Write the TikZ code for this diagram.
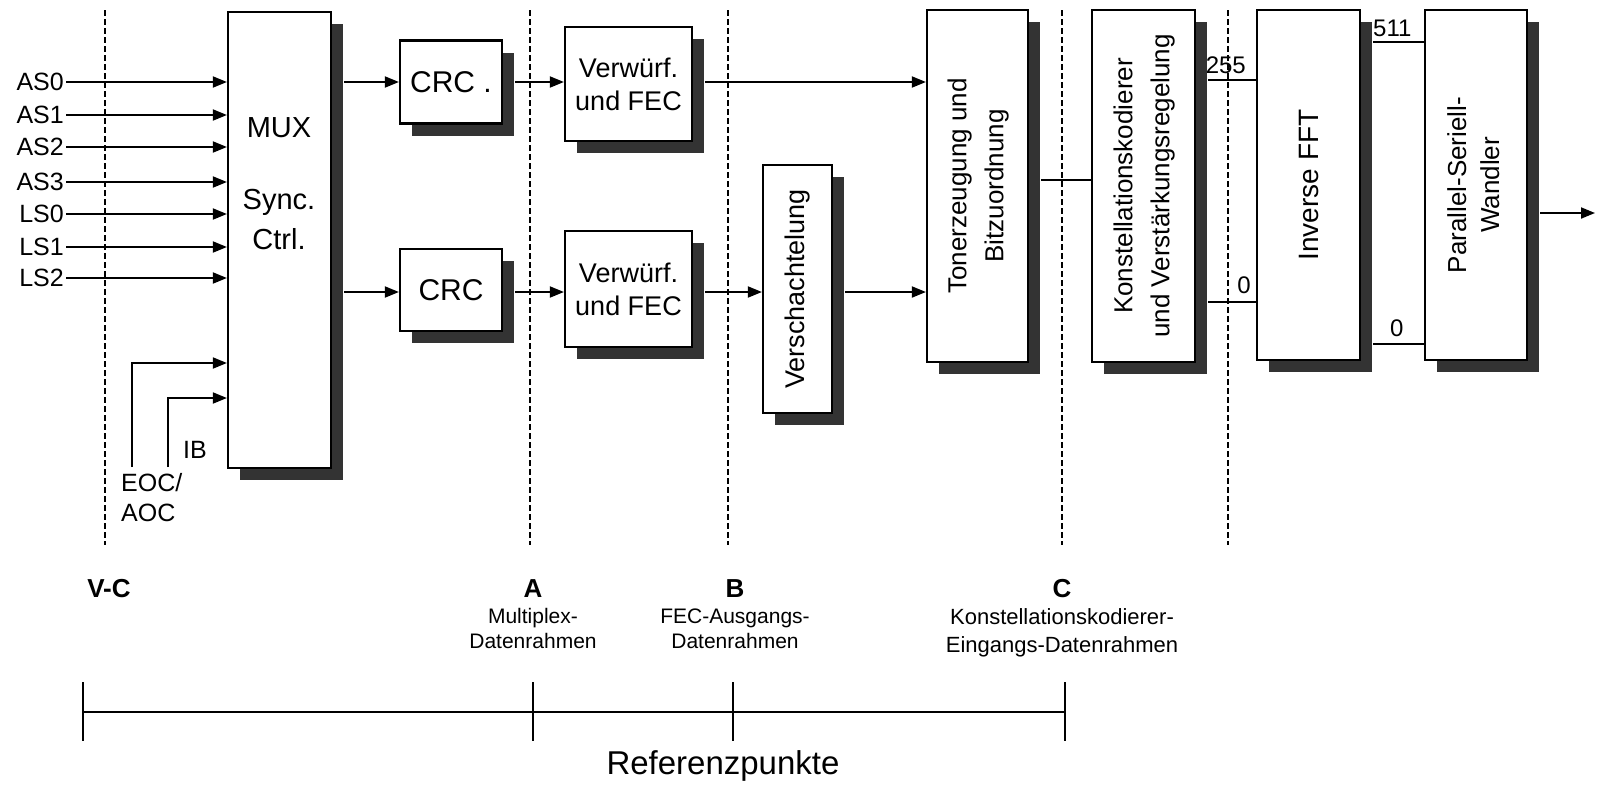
\documentclass[tikz,border=0pt]{standalone}
\usepackage{fontspec}
\setmainfont{Liberation Sans}
\usepackage{graphicx}
\usetikzlibrary{positioning}
\usetikzlibrary{arrows.meta}
\usetikzlibrary{shadows}

\tikzset{
    block/.style={draw, line width=2.2pt, fill=white, inner sep=0pt, align=center,
        font=\fontsize{27}{33}\selectfont,
        drop shadow={shadow xshift=12pt, shadow yshift=-12pt, fill=black!80, opacity=1}},
    eingang/.style={font=\fontsize{25}{30}\selectfont, inner sep=2pt},
    pfeil/.style={line width=1.8pt, -{Triangle[length=14pt,width=11pt]}},
    linie/.style={line width=1.4pt},
    trenn/.style={line width=1.5pt, dash pattern=on 6pt off 3pt},
    ausSchatten/.style={shorten <=12pt},
    port/.style={font=\fontsize{24}{28}\selectfont, inner sep=0pt},
    punkt/.style={font=\bfseries\fontsize{26}{30}\selectfont, inner sep=0pt},
    beschr/.style={font=\fontsize{21}{25}\selectfont, align=center, inner sep=0pt},
}

\begin{document}
\begin{tikzpicture}[x=1pt, y=-1pt]
    \useasboundingbox (0,0) rectangle (1597,790);

    % reference lines
    \draw[trenn] (105,10) -- (105,545);
    \draw[trenn] (530,10) -- (530,545);
    \draw[trenn] (728,10) -- (728,545);
    \draw[trenn] (1062,10) -- (1062,545);
    \draw[trenn] (1228,10) -- (1228,545);

    % set up the blocks
    \node[block, minimum width=103pt, minimum height=456pt] (mux) at (279.5,240) {};
    \node[font=\fontsize{29}{40}\selectfont] (muxL) at (279,128) {MUX};
    \node[font=\fontsize{29}{40}\selectfont, align=center] (syncL) at (279,220) {Sync.\\Ctrl.};
    \node[block, minimum width=102pt, minimum height=83pt, font=\fontsize{30}{36}\selectfont] (crcO) at (451,82) {CRC .};
    \node[block, minimum width=102pt, minimum height=82pt, font=\fontsize{30}{36}\selectfont] (crcU) at (451,290) {CRC};
    \node[block, minimum width=127pt, minimum height=114pt] (fecO) at (628.5,84) {Verwürf.\\und FEC};
    \node[block, minimum width=127pt, minimum height=116pt] (fecU) at (628.5,289) {Verwürf.\\und FEC};
    \node[block, minimum width=69pt, minimum height=248pt] (versch) at (797.5,289) {\rotatebox{90}{Verschachtelung}};
    \node[block, minimum width=101pt, minimum height=352pt, font=\fontsize{26}{37}\selectfont] (ton) at (977.5,186)
        {\rotatebox{90}{\begin{tabular}{@{}c@{}}Tonerzeugung und\\Bitzuordnung\end{tabular}}};
    \node[block, minimum width=103pt, minimum height=352pt, font=\fontsize{26}{37}\selectfont] (konst) at (1143.5,186)
        {\rotatebox{90}{\begin{tabular}{@{}c@{}}Konstellationskodierer\\und Verstärkungsregelung\end{tabular}}};
    \node[block, minimum width=103pt, minimum height=350pt, font=\fontsize{28}{34}\selectfont] (ifft) at (1308.5,185)
        {\rotatebox{90}{Inverse FFT}};
    \node[block, minimum width=102pt, minimum height=350pt, font=\fontsize{26}{33}\selectfont] (ps) at (1476,185)
        {\rotatebox{90}{\begin{tabular}{@{}c@{}}Parallel-Seriell-\\Wandler\end{tabular}}};

    % inputs
    \node[eingang, anchor=east] (as0) at (66,82) {AS0};
    \node[eingang, anchor=east] (as1) at (66,115) {AS1};
    \node[eingang, anchor=east] (as2) at (66,147) {AS2};
    \node[eingang, anchor=east] (as3) at (66,182) {AS3};
    \node[eingang, anchor=east] (ls0) at (66,214) {LS0};
    \node[eingang, anchor=east] (ls1) at (66,247) {LS1};
    \node[eingang, anchor=east] (ls2) at (66,278) {LS2};
    \node[eingang, anchor=west, align=left, font=\fontsize{25}{30}\selectfont] (eoc) at (119,498) {EOC/\\AOC};
    \node[eingang, anchor=west] (ib) at (181,450) {IB};
    \coordinate (eocFuss) at (132,467);
    \coordinate (ibFuss) at (168,467);

    % rows of the ports
    \coordinate (rowO) at (0,82);
    \coordinate (rowU) at (0,292);
    \coordinate (rowM) at (0,180);
    \coordinate (p255) at (0,80);
    \coordinate (p0a) at (0,302);
    \coordinate (p511) at (0,42);
    \coordinate (p0b) at (0,344);
    \coordinate (aus) at (1595,213);

    % draw arrows and lines between them
    \draw[pfeil] (as0) -- (mux.west |- as0);
    \draw[pfeil] (as1) -- (mux.west |- as1);
    \draw[pfeil] (as2) -- (mux.west |- as2);
    \draw[pfeil] (as3) -- (mux.west |- as3);
    \draw[pfeil] (ls0) -- (mux.west |- ls0);
    \draw[pfeil] (ls1) -- (mux.west |- ls1);
    \draw[pfeil] (ls2) -- (mux.west |- ls2);
    \draw[pfeil] (eocFuss) |- ([yshift=-123pt]mux.west);
    \draw[pfeil] (ibFuss) |- ([yshift=-158pt]mux.west);

    \draw[pfeil, ausSchatten] (mux.east |- rowO) -- (crcO.west |- rowO);
    \draw[pfeil, ausSchatten] (crcO.east |- rowO) -- (fecO.west |- rowO);
    \draw[pfeil, ausSchatten] (fecO.east |- rowO) -- (ton.west |- rowO);
    \draw[pfeil, ausSchatten] (mux.east |- rowU) -- (crcU.west |- rowU);
    \draw[pfeil, ausSchatten] (crcU.east |- rowU) -- (fecU.west |- rowU);
    \draw[pfeil, ausSchatten] (fecU.east |- rowU) -- (versch.west |- rowU);
    \draw[pfeil, ausSchatten] (versch.east |- rowU) -- (ton.west |- rowU);
    \draw[linie, ausSchatten] (ton.east |- rowM) -- (konst.west |- rowM);

    \draw[linie, ausSchatten] (konst.east |- p255) -- (ifft.west |- p255);
    \draw[linie, ausSchatten] (konst.east |- p0a) -- (ifft.west |- p0a);
    \draw[linie, ausSchatten] (ifft.east |- p511) -- (ps.west |- p511);
    \draw[linie, ausSchatten] (ifft.east |- p0b) -- (ps.west |- p0b);
    \draw[pfeil, ausSchatten] (ps.east |- aus) -- (aus);

    \node[port, anchor=south east] (l255) at (1246,74) {255};
    \node[port, anchor=south east] (l0a) at (1251,294) {0};
    \node[port, anchor=south west] (l511) at (1373,37) {511};
    \node[port, anchor=south west] (l0b) at (1390,337) {0};

    % reference points
    \node[punkt] (vc) at (109,589) {V-C};
    \node[punkt] (pA) at (533,589) {A};
    \node[punkt] (pB) at (735,589) {B};
    \node[punkt] (pC) at (1062,589) {C};
    \node[beschr, below=10pt of pA] (dA) {Multiplex-\\Datenrahmen};
    \node[beschr, below=10pt of pB] (dB) {FEC-Ausgangs-\\Datenrahmen};
    \node[beschr, below=10pt of pC, font=\fontsize{22}{28}\selectfont] (dC) {Konstellationskodierer-\\Eingangs-Datenrahmen};

    \draw[linie] (83,712) -- (1065,712);
    \draw[linie] (83,682) -- (83,741);
    \draw[linie] (533,682) -- (533,741);
    \draw[linie] (733,682) -- (733,741);
    \draw[linie] (1065,682) -- (1065,741);
    \node[font=\fontsize{33}{40}\selectfont] (ref) at (723,766) {Referenzpunkte};
\end{tikzpicture}
\end{document}
